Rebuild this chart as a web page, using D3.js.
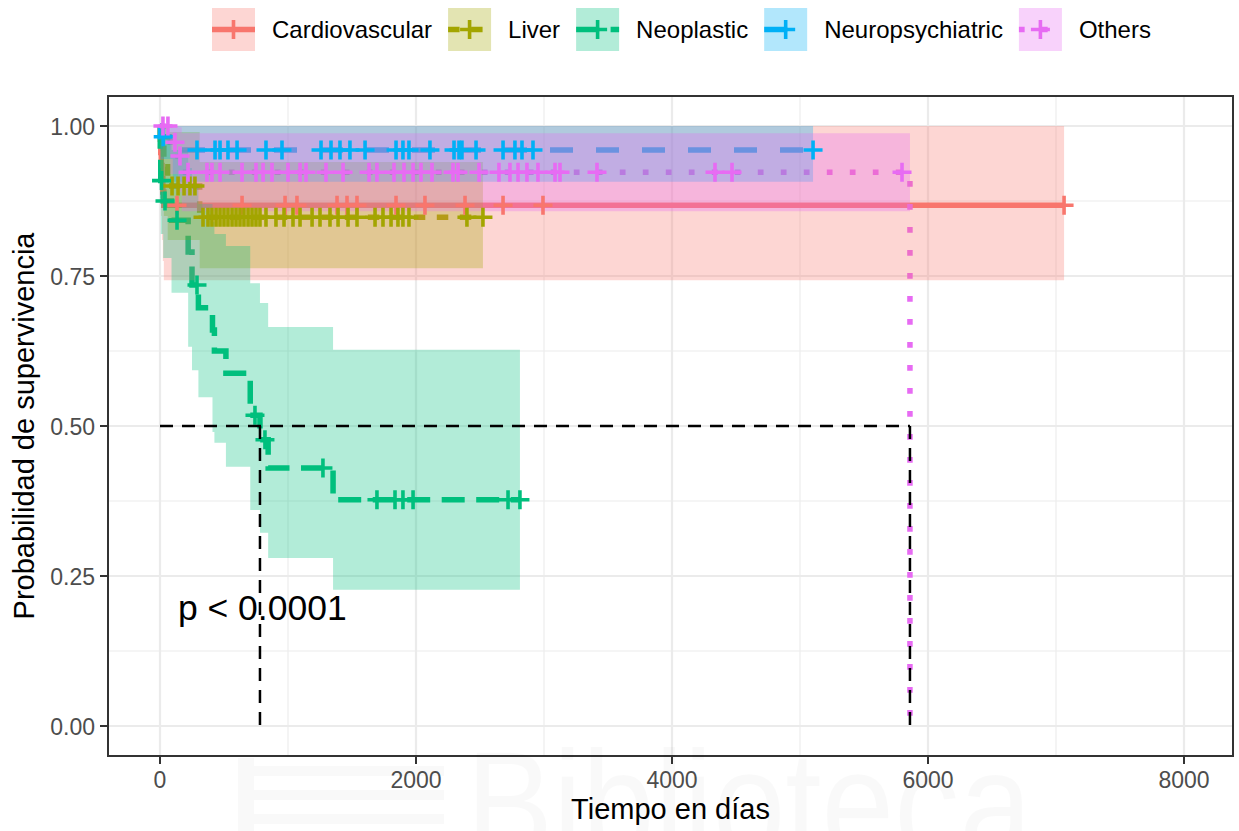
<!DOCTYPE html>
<html lang="es">
<head>
<meta charset="UTF-8" />
<title>Supervivencia por causa</title>
<script src="https://d3js.org/d3.v7.min.js"></script>
<style>
  body { margin: 0; background: #fff; }
  svg text { font-family: "Liberation Sans", Arial, Helvetica, sans-serif; }
</style>
</head>
<body>
<svg id="chart" width="1239" height="831"></svg>
<script>
// groups (strata) and ggplot hue colours
const groups = ["Cardiovascular", "Liver", "Neoplastic", "Neuropsychiatric", "Others"];
const colors = ["#F8766D", "#A3A500", "#00BF7D", "#00B0F6", "#E76BF3"];

// step times (days), survival and 95% CI
const cardioTime = [0, 3, 6, 10, 15, 22, 30];
const cardioSurv = [1, 0.978, 0.956, 0.934, 0.912, 0.89, 0.868];
const cardioLower = [1, 0.93, 0.89, 0.85, 0.81, 0.775, 0.743];
const cardioUpper = [1, 1, 1, 1, 1, 1, 1];
const cardioCensor = [133, 641, 977, 1070, 1383, 1461, 1539, 1844, 2070, 2383, 2680, 2992, 7063];

const liverTime = [0, 5, 30, 60, 310];
const liverSurv = [1, 0.963, 0.932, 0.9, 0.848];
const liverLower = [1, 0.89, 0.85, 0.81, 0.763];
const liverUpper = [1, 1, 1, 0.99, 0.94];
const liverCensor = [94, 141, 188, 234, 273, 336, 375, 406, 438, 469, 500, 531, 563, 594, 625, 656,
  688, 719, 750, 781, 828, 906, 969, 1039, 1094, 1188, 1250, 1328, 1391, 1469, 1539, 1680, 1742,
  1805, 1859, 1898, 1945, 2398, 2523];

const neoTime = [0, 2, 6, 25, 90, 220, 250, 300, 410, 425, 515, 705, 781, 845, 1352];
const neoSurv = [1, 0.955, 0.909, 0.875, 0.843, 0.79, 0.735, 0.697, 0.66, 0.625, 0.588, 0.518, 0.477, 0.43, 0.377];
const neoLower = [1, 0.88, 0.82, 0.78, 0.722, 0.632, 0.593, 0.548, 0.49, 0.472, 0.432, 0.36, 0.322, 0.28, 0.227];
const neoUpper = [1, 1, 1, 0.98, 0.96, 0.93, 0.9, 0.87, 0.84, 0.82, 0.8, 0.738, 0.705, 0.665, 0.627];
const neoCensor = [12, 39, 133, 289, 742, 820, 1273, 1695, 1836, 1898, 1977, 2719, 2812];

const neuroTime = [0, 5, 100];
const neuroSurv = [1, 0.982, 0.96];
const neuroLower = [1, 0.945, 0.907];
const neuroUpper = [1, 1, 1];
const neuroCensor = [25, 289, 430, 469, 531, 602, 828, 953, 1258, 1336, 1406, 1484, 1602, 1844, 1898,
  1945, 2109, 2297, 2336, 2359, 2469, 2680, 2773, 2828, 2914, 5102];

const othersTime = [0, 80, 140, 170, 5859];
const othersSurv = [1, 0.973, 0.95, 0.923, 0];
const othersLower = [1, 0.92, 0.89, 0.858, null];
const othersUpper = [1, 1, 0.998, 0.988, null];
const othersCensor = [23, 62, 117, 156, 219, 367, 406, 469, 641, 750, 805, 875, 1000, 1094, 1141, 1297,
  1430, 1633, 1695, 1828, 1906, 1977, 2039, 2125, 2289, 2328, 2492, 2648, 2734, 2797, 2867, 2953,
  3086, 3125, 3414, 4336, 4469, 5797];

const xTicks = [0, 2000, 4000, 6000, 8000];
const xMinor = [1000, 3000, 5000, 7000];
const yTicks = [0, 0.25, 0.5, 0.75, 1];
const yMinor = [0.125, 0.375, 0.625, 0.875];
const pvalText = "p < 0.0001";

const allTime = [cardioTime, liverTime, neoTime, neuroTime, othersTime];
const allSurv = [cardioSurv, liverSurv, neoSurv, neuroSurv, othersSurv];
const allLower = [cardioLower, liverLower, neoLower, neuroLower, othersLower];
const allUpper = [cardioUpper, liverUpper, neoUpper, neuroUpper, othersUpper];
const allCensor = [cardioCensor, liverCensor, neoCensor, neuroCensor, othersCensor];
const dashes = ["none", "11.5,11.5", "23,11.5", "23,23", "5.75,17.25"];

const svg = d3.select("#chart");
const panel = { left: 108, right: 1233, top: 96, bottom: 756 };

const x = d3.scaleLinear().domain([0, 8000]).range([160, 1184]);
const y = d3.scaleLinear().domain([0, 1]).range([726, 126]);

// build each stratum
const series = groups.map((name, i) => {
  const steps = allTime[i].map((t, j) => ({
    t, s: allSurv[i][j], lo: allLower[i][j], hi: allUpper[i][j]
  }));
  const tEnd = Math.max(d3.max(allCensor[i]), d3.max(allTime[i]));
  const last = steps[steps.length - 1];
  const line = last.t < tEnd ? steps.concat({ t: tEnd, s: last.s }) : steps;
  const band = steps.filter(d => d.lo != null);
  const lastBand = band[band.length - 1];
  band.push({ t: tEnd, lo: lastBand.lo, hi: lastBand.hi });
  const survAt = t => {
    let s = 1;
    steps.forEach(d => { if (d.t <= t) s = d.s; });
    return s;
  };
  const censors = allCensor[i].map(t => ({ t, s: survAt(t) }));
  const medStep = steps.find(d => d.s <= 0.5);
  return { name, color: colors[i], dash: dashes[i], line, band, censors,
           median: medStep ? medStep.t : null };
});

svg.append("defs").append("clipPath").attr("id", "clip")
  .append("rect")
  .attr("x", panel.left).attr("y", panel.top)
  .attr("width", panel.right - panel.left).attr("height", panel.bottom - panel.top);

// panel + grid
svg.append("rect")
  .attr("x", panel.left).attr("y", panel.top)
  .attr("width", panel.right - panel.left).attr("height", panel.bottom - panel.top)
  .attr("fill", "#fff");

const grid = svg.append("g").attr("clip-path", "url(#clip)");
grid.selectAll(".xminor").data(xMinor).enter().append("line")
  .attr("x1", d => x(d)).attr("x2", d => x(d))
  .attr("y1", panel.top).attr("y2", panel.bottom)
  .attr("stroke", "#EBEBEB").attr("stroke-width", 1.1);
grid.selectAll(".yminor").data(yMinor).enter().append("line")
  .attr("x1", panel.left).attr("x2", panel.right)
  .attr("y1", d => y(d)).attr("y2", d => y(d))
  .attr("stroke", "#EBEBEB").attr("stroke-width", 1.1);
grid.selectAll(".xmajor").data(xTicks).enter().append("line")
  .attr("x1", d => x(d)).attr("x2", d => x(d))
  .attr("y1", panel.top).attr("y2", panel.bottom)
  .attr("stroke", "#EBEBEB").attr("stroke-width", 2.2);
grid.selectAll(".ymajor").data(yTicks).enter().append("line")
  .attr("x1", panel.left).attr("x2", panel.right)
  .attr("y1", d => y(d)).attr("y2", d => y(d))
  .attr("stroke", "#EBEBEB").attr("stroke-width", 2.2);

const plot = svg.append("g").attr("clip-path", "url(#clip)");

const stepLine = d3.line()
  .x(d => x(d.t)).y(d => y(d.s))
  .curve(d3.curveStepAfter);
const stepArea = d3.area()
  .x(d => x(d.t)).y0(d => y(d.lo)).y1(d => y(d.hi))
  .curve(d3.curveStepAfter);

// survival curves
series.forEach(sr => {
  plot.append("path")
    .datum(sr.line)
    .attr("fill", "none")
    .attr("stroke", sr.color)
    .attr("stroke-width", 5.5)
    .attr("stroke-dasharray", sr.dash)
    .attr("d", stepLine);
});

// confidence bands
series.forEach(sr => {
  plot.append("path")
    .datum(sr.band)
    .attr("fill", sr.color)
    .attr("fill-opacity", 0.3)
    .attr("d", stepArea);
});

// censor marks
const plus = "M-9.5,0H9.5M0,-9.5V9.5";
series.forEach(sr => {
  plot.selectAll(null).data(sr.censors).enter().append("path")
    .attr("d", plus)
    .attr("transform", d => `translate(${x(d.t)},${y(d.s)})`)
    .attr("fill", "none")
    .attr("stroke", sr.color)
    .attr("stroke-width", 3.6);
});

// median survival lines
const medians = series.map(d => d.median).filter(d => d != null);
plot.append("line")
  .attr("x1", x(0)).attr("x2", x(d3.max(medians)))
  .attr("y1", y(0.5)).attr("y2", y(0.5))
  .attr("stroke", "#000").attr("stroke-width", 2.5)
  .attr("stroke-dasharray", "13,9");
plot.selectAll(".med").data(medians).enter().append("line")
  .attr("x1", d => x(d)).attr("x2", d => x(d))
  .attr("y1", y(0.5)).attr("y2", y(0))
  .attr("stroke", "#000").attr("stroke-width", 2.5)
  .attr("stroke-dasharray", "13,9");

// p value
svg.append("text")
  .attr("x", x(140)).attr("y", y(0.177))
  .attr("font-size", 35.5)
  .attr("fill", "#000")
  .text(pvalText);

// panel border
svg.append("rect")
  .attr("x", panel.left).attr("y", panel.top)
  .attr("width", panel.right - panel.left).attr("height", panel.bottom - panel.top)
  .attr("fill", "none").attr("stroke", "#333").attr("stroke-width", 2);

// faint library watermark (drawn under the axis texts)
const wm = svg.append("g").attr("fill", "#000").attr("fill-opacity", 0.022);
wm.append("rect").attr("x", 238).attr("y", 758).attr("width", 16).attr("height", 80);
[766, 790, 814].forEach(v => {
  wm.append("rect").attr("x", 254).attr("y", v).attr("width", 190).attr("height", 10);
});
wm.append("text")
  .attr("x", 466).attr("y", 856)
  .attr("font-size", 150)
  .attr("textLength", 566).attr("lengthAdjust", "spacingAndGlyphs")
  .text("Biblioteca");

// axes
const xAxis = svg.append("g");
xAxis.selectAll("line").data(xTicks).enter().append("line")
  .attr("x1", d => x(d)).attr("x2", d => x(d))
  .attr("y1", panel.bottom).attr("y2", panel.bottom + 8)
  .attr("stroke", "#333").attr("stroke-width", 2);
xAxis.selectAll("text").data(xTicks).enter().append("text")
  .attr("x", d => x(d)).attr("y", 788)
  .attr("text-anchor", "middle")
  .attr("font-size", 23).attr("fill", "#4D4D4D")
  .text(d => d);

const yAxis = svg.append("g");
yAxis.selectAll("line").data(yTicks).enter().append("line")
  .attr("x1", panel.left - 8).attr("x2", panel.left)
  .attr("y1", d => y(d)).attr("y2", d => y(d))
  .attr("stroke", "#333").attr("stroke-width", 2);
yAxis.selectAll("text").data(yTicks).enter().append("text")
  .attr("x", 95).attr("y", d => y(d) + 8.5)
  .attr("text-anchor", "end")
  .attr("font-size", 23).attr("fill", "#4D4D4D")
  .text(d => d3.format(".2f")(d));

svg.append("text")
  .attr("x", (panel.left + panel.right) / 2).attr("y", 819)
  .attr("text-anchor", "middle")
  .attr("font-size", 29).attr("fill", "#000")
  .text("Tiempo en días");
svg.append("text")
  .attr("transform", `translate(34,${(panel.top + panel.bottom) / 2}) rotate(-90)`)
  .attr("text-anchor", "middle")
  .attr("font-size", 29).attr("fill", "#000")
  .text("Probabilidad de supervivencia");

// legend
const legend = svg.append("g");
let lx = 212;
const keySize = 43, keyTop = 8;
series.forEach(sr => {
  const g = legend.append("g").attr("transform", `translate(${lx},${keyTop})`);
  g.append("rect").attr("width", keySize).attr("height", keySize)
    .attr("fill", sr.color).attr("fill-opacity", 0.3);
  g.append("line")
    .attr("x1", 0).attr("x2", keySize)
    .attr("y1", keySize / 2).attr("y2", keySize / 2)
    .attr("stroke", sr.color).attr("stroke-width", 5.5)
    .attr("stroke-dasharray", sr.dash);
  g.append("path").attr("d", plus)
    .attr("transform", `translate(${keySize / 2},${keySize / 2})`)
    .attr("fill", "none").attr("stroke", sr.color).attr("stroke-width", 3.6);
  const t = g.append("text")
    .attr("x", keySize + 17).attr("y", keySize / 2 + 8.5)
    .attr("font-size", 24).attr("fill", "#000")
    .text(sr.name);
  lx += keySize + 17 + t.node().getComputedTextLength() + 16;
});
</script>
</body>
</html>
